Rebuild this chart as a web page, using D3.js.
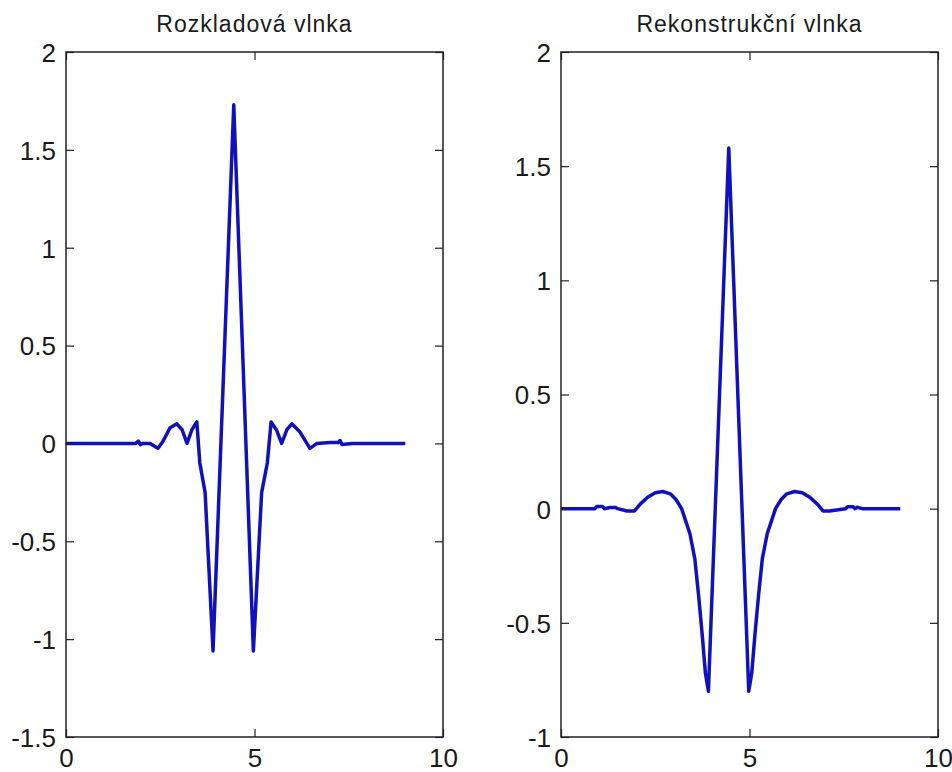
<!DOCTYPE html>
<html>
<head>
<meta charset="utf-8">
<script src="https://cdn.jsdelivr.net/npm/d3@7"></script>
<style>
  html, body { margin: 0; padding: 0; background: #ffffff; }
  svg { display: block; }
  .lbl { font-family: "Liberation Sans", Arial, sans-serif; fill: #1a1a1a; }
</style>
</head>
<body>
<svg id="chart" width="952" height="772"></svg>
<script>
// Decomposition wavelet (left panel)
const decompX = [0, 1.0, 1.85, 1.92, 1.97, 2.05, 2.23, 2.44, 2.57, 2.76, 2.94, 3.08, 3.21, 3.34, 3.47,
                 3.55, 3.69, 3.90, 4.45, 4.97, 5.19, 5.34, 5.44, 5.58, 5.72, 5.86, 5.99, 6.20, 6.47,
                 6.66, 7.00, 7.22, 7.27, 7.32, 7.60, 9.0];
const decompY = [0, 0, 0, 0.012, -0.006, 0, 0, -0.025, 0.01, 0.08, 0.10, 0.07, 0.0, 0.07, 0.11,
                 -0.10, -0.25, -1.06, 1.73, -1.06, -0.25, -0.10, 0.11, 0.07, 0.0, 0.07, 0.10, 0.06, -0.025,
                 0, 0.005, 0.005, 0.015, -0.005, 0, 0];

// Reconstruction wavelet (right panel)
const reconX = [0, 0.90, 0.95, 1.10, 1.15, 1.30, 1.45, 1.50, 1.75, 1.95, 2.10, 2.30, 2.50, 2.70, 2.90,
                3.05, 3.20, 3.30, 3.42, 3.55, 3.65, 3.75, 3.83, 3.91, 4.45, 4.98, 5.06, 5.14, 5.24,
                5.34, 5.47, 5.59, 5.69, 5.84, 5.99, 6.20, 6.40, 6.60, 6.80, 6.95, 7.12, 7.55, 7.60,
                7.75, 7.80, 7.85, 8.0, 9.0];
const reconY = [0, 0, 0.01, 0.01, 0, 0.005, 0.005, 0, -0.01, -0.01, 0.02, 0.05, 0.07, 0.075, 0.065,
                0.04, 0.0, -0.05, -0.11, -0.22, -0.38, -0.56, -0.72, -0.80, 1.58, -0.80, -0.72, -0.56, -0.38,
                -0.22, -0.11, -0.05, 0.0, 0.04, 0.065, 0.075, 0.07, 0.05, 0.02, -0.01, -0.01, 0, 0.008,
                0.008, 0, 0.006, 0, 0];

// Axis ticks
const xTicks = [0, 5, 10];
const decompYTicks = [-1.5, -1, -0.5, 0, 0.5, 1, 1.5, 2];
const reconYTicks = [-1, -0.5, 0, 0.5, 1, 1.5, 2];

const panels = [
  { title: "Rozkladová vlnka", xs: decompX, ys: decompY, yDomain: [-1.5, 2], yTicks: decompYTicks, left: 66, right: 443 },
  { title: "Rekonstrukční vlnka", xs: reconX, ys: reconY, yDomain: [-1, 2], yTicks: reconYTicks, left: 561, right: 938 }
];

const plotTop = 52, plotBottom = 737, tickLen = 8;
const svg = d3.select("#chart");
const fmt = d => String(d);

panels.forEach(p => {
  const x = d3.scaleLinear().domain([0, 10]).range([p.left, p.right]);
  const y = d3.scaleLinear().domain(p.yDomain).range([plotBottom, plotTop]);
  const g = svg.append("g");

  // data line
  const pts = p.xs.map((v, i) => [v, p.ys[i]]);
  g.append("path")
    .datum(pts)
    .attr("fill", "none")
    .attr("stroke", "#1010bc")
    .attr("stroke-width", 3.5)
    .attr("stroke-linejoin", "round")
    .attr("d", d3.line().x(d => x(d[0])).y(d => y(d[1])));

  // inward-facing axes on all four sides
  const axStyle = sel => {
    sel.select(".domain").remove();
    sel.selectAll(".tick line").attr("stroke", "#222").attr("stroke-width", 1.2);
    sel.selectAll("text").attr("class", "lbl").attr("font-size", 26).attr("fill", "#1a1a1a")
      .attr("font-family", "'Liberation Sans', Arial, sans-serif");
  };

  g.append("g").attr("transform", `translate(0,${plotBottom})`)
    .call(d3.axisBottom(x).tickValues(xTicks).tickFormat(fmt).tickSizeInner(-tickLen).tickSizeOuter(0))
    .call(axStyle)
    .call(s => s.selectAll("text").attr("dy", null).attr("y", 30));

  g.append("g").attr("transform", `translate(0,${plotTop})`)
    .call(d3.axisTop(x).tickValues(xTicks).tickFormat("").tickSizeInner(-tickLen).tickSizeOuter(0))
    .call(axStyle);

  g.append("g").attr("transform", `translate(${p.left},0)`)
    .call(d3.axisLeft(y).tickValues(p.yTicks).tickFormat(fmt).tickSizeInner(-tickLen).tickSizeOuter(0))
    .call(axStyle)
    .call(s => s.selectAll("text").attr("x", -10).attr("dy", "0.36em"));

  g.append("g").attr("transform", `translate(${p.right},0)`)
    .call(d3.axisRight(y).tickValues(p.yTicks).tickFormat("").tickSizeInner(-tickLen).tickSizeOuter(0))
    .call(axStyle);

  // axes box
  g.append("rect")
    .attr("x", p.left).attr("y", plotTop)
    .attr("width", p.right - p.left).attr("height", plotBottom - plotTop)
    .attr("fill", "none").attr("stroke", "#222").attr("stroke-width", 1.5);

  // title
  g.append("text")
    .attr("class", "lbl")
    .attr("x", (p.left + p.right) / 2).attr("y", 32)
    .attr("text-anchor", "middle")
    .attr("font-size", 23)
    .attr("letter-spacing", 1)
    .text(p.title);
});
</script>
</body>
</html>
